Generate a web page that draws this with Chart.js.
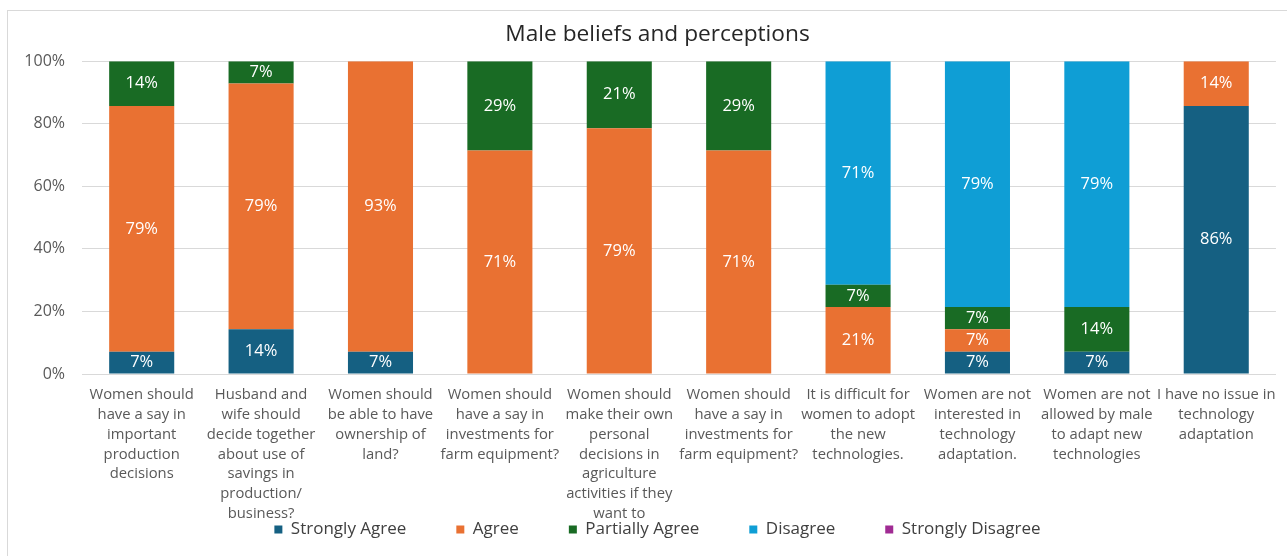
<!DOCTYPE html>
<html>
<head>
<meta charset="utf-8">
<script src="https://cdn.jsdelivr.net/npm/chart.js@4/dist/chart.umd.min.js"></script>
<style>
  html, body { margin: 0; padding: 0; background: #fff; overflow: hidden; }
  #frame { position: absolute; left: 7px; top: 10px; width: 1300px; height: 560px; border: 1px solid #d9d9d9; }
  #wrap { position: absolute; left: 0; top: 0; width: 1287px; height: 556px; }
</style>
</head>
<body>
<div id="frame"></div>
<div id="wrap"><canvas id="chart" width="1287" height="556"></canvas></div>
<script>
// statements, one per bar
const categories = [
  ['Women should', 'have a say in', 'important', 'production', 'decisions'],
  ['Husband and', 'wife should', 'decide together', 'about use of', 'savings in', 'production/', 'business?'],
  ['Women should', 'be able to have', 'ownership of', 'land?'],
  ['Women should', 'have a say in', 'investments for', 'farm equipment?'],
  ['Women should', 'make their own', 'personal', 'decisions in', 'agriculture', 'activities if they', 'want to'],
  ['Women should', 'have a say in', 'investments for', 'farm equipment?'],
  ['It is difficult for', 'women to adopt', 'the new', 'technologies.'],
  ['Women are not', 'interested in', 'technology', 'adaptation.'],
  ['Women are not', 'allowed by male', 'to adapt new', 'technologies'],
  ['I have no issue in', 'technology', 'adaptation']
];

// share of respondents, %
const stronglyAgree    = [7.14, 14.29, 7.14, 0, 0, 0, 0, 7.14, 7.14, 85.71];
const agree            = [78.57, 78.57, 92.86, 71.43, 78.57, 71.43, 21.43, 7.14, 0, 14.29];
const partiallyAgree   = [14.29, 7.14, 0, 28.57, 21.43, 28.57, 7.14, 7.14, 14.29, 0];
const disagree         = [0, 0, 0, 0, 0, 0, 71.43, 78.57, 78.57, 0];
const stronglyDisagree = [0, 0, 0, 0, 0, 0, 0, 0, 0, 0];

const yTicks = [0, 20, 40, 60, 80, 100];

const FONT = 'Open Sans';

// white % labels in the middle of each segment
const segmentLabels = {
  id: 'segmentLabels',
  afterLayout(chart) {
    // tick labels may spill out of their scale box (long x labels run under the legend padding)
    Object.values(chart.scales).forEach(s => { s._computeLabelArea = () => undefined; });
  },
  afterDatasetsDraw(chart) {
    const ctx = chart.ctx;
    ctx.save();
    ctx.fillStyle = '#ffffff';
    ctx.font = `16.5px "${FONT}"`;
    ctx.textAlign = 'center';
    ctx.textBaseline = 'middle';
    chart.data.datasets.forEach((ds, i) => {
      const meta = chart.getDatasetMeta(i);
      if (meta.hidden) return;
      meta.data.forEach((bar, j) => {
        const v = ds.data[j];
        if (!v) return;
        ctx.fillText(Math.round(v) + '%', bar.x, (bar.y + bar.base) / 2);
      });
    });
    ctx.restore();
  }
};

const ds = (label, data, color) => ({ label, data, backgroundColor: color, borderWidth: 0 });

new Chart(document.getElementById('chart'), {
  type: 'bar',
  data: {
    labels: categories,
    datasets: [
      ds('Strongly Agree', stronglyAgree, '#156082'),
      ds('Agree', agree, '#E97132'),
      ds('Partially Agree', partiallyAgree, '#196B24'),
      ds('Disagree', disagree, '#0F9ED5'),
      ds('Strongly Disagree', stronglyDisagree, '#A02B93')
    ]
  },
  options: {
    responsive: false,
    animation: false,
    devicePixelRatio: 1,
    barPercentage: 0.545,
    categoryPercentage: 1,
    layout: { padding: { left: 38, right: 10, top: 0, bottom: 8 } },
    plugins: {
      title: {
        display: true,
        text: 'Male beliefs and perceptions',
        color: '#262626',
        font: { family: FONT, size: 22.7, weight: 'normal' },
        padding: { top: 21, bottom: 13 }
      },
      legend: {
        position: 'bottom',
        labels: {
          color: '#404040',
          font: { family: FONT, size: 17 },
          boxWidth: 8,
          boxHeight: 8,
          padding: 50
        }
      },
      tooltip: { enabled: false }
    },
    scales: {
      x: {
        stacked: true,
        grid: { display: false, drawTicks: false },
        border: { color: '#d9d9d9' },
        ticks: {
          color: '#595959',
          font: { family: FONT, size: 14.8, lineHeight: 1.34 },
          padding: 11,
          autoSkip: false,
          maxRotation: 0
        },
        afterFit(scale) { scale.height = 97; }
      },
      y: {
        stacked: true,
        min: 0,
        max: 100,
        afterBuildTicks(scale) { scale.ticks = yTicks.map(v => ({ value: v })); },
        grid: { color: '#d9d9d9', drawTicks: false },
        border: { display: false },
        ticks: {
          color: '#595959',
          font: { family: FONT, size: 16 },
          padding: 17,
          callback: v => v + '%'
        },
        afterFit(scale) { scale.width = 44; }
      }
    }
  },
  plugins: [segmentLabels]
});
</script>
</body>
</html>
